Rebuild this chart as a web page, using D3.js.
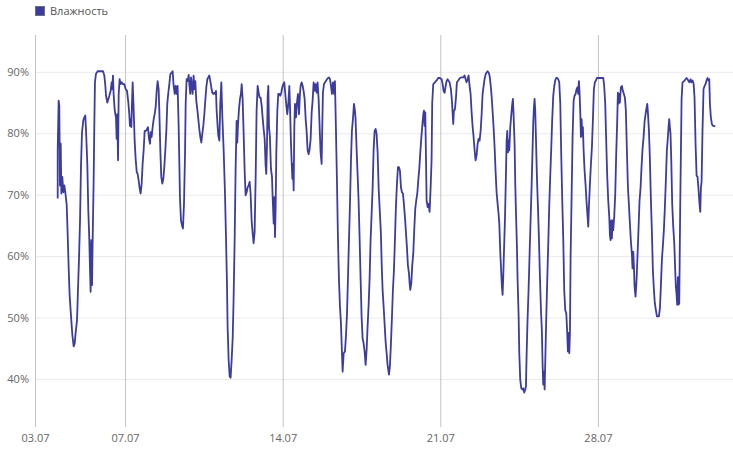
<!DOCTYPE html>
<html>
<head>
<meta charset="utf-8">
<script src="https://cdn.jsdelivr.net/npm/d3@7"></script>
<style>
  html, body { margin: 0; padding: 0; background: #fff; }
  svg { display: block; font-family: "Open Sans", "Noto Sans", sans-serif; }
</style>
</head>
<body>
<svg id="chart" width="733" height="451"></svg>
<script>
// ---- data ----
const seriesName = "Влажность";
const startDate = new Date(2019, 6, 3, 0, 0);   // 03.07
const endDate = new Date(2019, 7, 3, 0, 0);     // 03.08
const tickDates = [new Date(2019, 6, 3), new Date(2019, 6, 7), new Date(2019, 6, 14), new Date(2019, 6, 21), new Date(2019, 6, 28)];
const yTicks = [40, 50, 60, 70, 80, 90];
// hours since 03.07 00:00
const hours = [
24.2,24.2,25.2,25.9,26.6,27.4,28.1,29.1,30.2,31.3,32.3,33.8,34.8,35.9,36.9,38.4,39.8,41.2,42.3,43.3,44.8,45.8,46.9,48.0,49.0,50.1,51.5,52.6,53.6,54.4,55.8,56.8,57.9,58.6,59.3,60.0,60.8,61.5,62.5,63.2,63.9,65.0,66.8,69.6,72.5,73.9,75.0,75.7,77.1,78.2,79.2,80.6,81.7,82.4,83.1,83.8,84.9,85.6,86.3,87.0,87.7,88.5,89.2,90.2,91.3,92.4,93.8,95.2,96.6,98.1,99.5,100.5,101.2,102.0,102.7,103.4,104.1,105.2,106.2,107.3,108.4,109.4,110.5,111.6,112.6,113.7,114.7,115.8,116.9,118.3,119.4,120.4,121.5,122.6,123.3,124.3,125.4,126.5,127.5,128.6,129.7,130.7,131.8,132.5,133.6,134.6,135.7,136.8,137.8,138.9,140.0,141.0,142.1,143.2,144.2,145.7,146.7,147.8,148.9,149.9,151.0,152.0,153.1,153.8,154.5,155.6,156.7,157.7,158.8,159.9,160.6,161.6,162.7,163.8,164.5,165.5,166.3,167.3,168.0,169.1,169.8,170.9,171.9,173.0,174.1,175.1,176.2,177.3,178.3,179.4,180.5,181.5,182.6,183.7,184.7,185.8,186.9,187.9,189.0,190.1,191.1,192.2,192.9,193.6,194.7,195.4,196.5,197.5,198.6,199.7,201.1,202.5,203.6,204.6,205.3,206.4,207.5,208.5,209.6,210.7,211.7,212.8,213.9,214.9,215.6,216.3,217.4,218.5,219.5,220.3,221.3,222.4,223.5,224.5,225.6,226.6,227.7,228.8,229.8,230.9,232.0,233.0,234.1,235.2,236.2,237.3,238.4,239.4,240.5,241.6,242.6,243.7,244.8,245.8,246.5,247.3,248.0,248.7,249.4,250.4,251.5,252.6,253.3,254.4,255.1,255.8,256.5,257.2,258.3,259.3,260.4,261.5,262.5,263.6,264.7,265.7,266.8,267.9,268.9,270.0,271.1,271.8,272.8,273.5,274.3,275.0,275.7,276.4,277.1,278.2,279.2,280.3,281.4,282.4,283.1,284.2,285.3,286.3,287.4,288.5,289.5,290.6,291.7,292.7,293.8,294.9,295.9,297.0,298.1,299.1,300.2,301.2,302.3,303.4,304.4,305.5,306.2,306.9,308.0,309.1,310.1,311.2,312.3,313.3,314.4,315.5,316.5,317.6,318.7,319.7,320.8,321.9,322.9,324.0,325.0,326.1,327.2,327.9,329.0,330.4,331.4,332.5,333.6,334.6,335.7,336.8,337.8,338.9,340.0,341.0,341.7,342.8,343.9,344.9,346.0,347.1,348.1,349.2,350.3,351.3,352.4,353.5,354.5,355.6,356.7,357.7,358.8,359.9,360.9,362.0,363.1,364.1,365.2,366.3,367.3,
368.7,369.5,370.5,371.6,372.6,373.7,374.8,375.8,377.3,378.3,379.4,380.5,381.5,382.6,383.7,384.7,385.8,386.9,387.9,389.0,390.1,391.1,392.2,393.2,394.3,395.4,396.4,397.5,398.6,399.3,400.0,401.1,402.1,403.2,404.3,405.3,406.4,407.5,408.5,409.6,410.7,411.7,412.8,413.9,414.6,415.3,416.0,416.7,417.4,418.5,419.5,420.6,421.7,422.7,423.4,424.5,426.3,428.1,429.8,431.6,433.4,434.5,435.5,436.6,437.7,438.7,439.8,440.9,441.9,443.3,444.4,445.1,445.8,446.5,447.6,448.7,449.7,451.2,452.9,454.7,456.5,457.9,459.0,460.0,461.1,462.2,463.2,464.3,465.4,466.4,467.5,468.6,469.6,470.7,471.8,472.8,473.9,475.0,476.0,477.1,478.2,479.2,480.3,481.4,482.4,483.5,484.5,485.6,486.7,487.7,488.8,489.9,490.9,492.0,493.1,494.1,494.9,495.6,496.3,497.0,497.7,498.4,499.1,499.8,500.9,502.0,502.7,503.4,504.1,504.8,505.5,506.6,507.6,508.7,509.4,510.1,511.2,511.9,512.6,513.7,514.4,515.5,516.2,517.2,518.3,519.4,520.4,521.5,522.6,523.3,524.0,525.0,526.1,527.2,528.2,529.3,530.4,531.1,531.8,532.5,533.2,533.9,535.0,536.1,537.1,538.2,539.3,540.3,541.0,541.7,542.5,543.2,543.9,544.9,546.0,547.1,548.1,549.2,550.3,551.3,552.4,553.5,554.5,555.6,556.7,557.7,558.8,559.9,560.9,562.0,563.1,564.1,565.2,566.3,567.3,568.0,568.7,569.5,570.2,570.9,571.9,573.0,574.1,575.1,576.2,577.3,578.3,579.0,579.8,580.5,581.2,581.9,582.6,583.3,584.0,584.7,585.8,586.9,587.9,589.0,589.7,590.4,591.5,592.5,593.6,594.7,595.7,596.8,597.9,598.9,600.4,602.1,603.9,605.7,606.7,607.8,608.9,609.9,611.0,612.1,612.8,613.5,614.2,614.9,615.6,616.3,617.4,618.5,619.5,620.6,621.3,622.0,622.7,623.4,624.5,625.6,626.6,627.7,628.8,629.8,630.9,632.0,633.0,634.1,635.2,636.2,636.9,637.7,638.4,639.1,640.1,641.2,642.3,643.3,644.4,645.5,646.5,647.6,648.7,649.7,650.8,651.9,652.6,653.3,654.4,655.4,656.5,657.6,658.6,659.7,660.7,661.8,662.9,663.9,665.0,666.1,667.1,668.2,669.3,670.3,671.4,672.5,673.5,674.6,675.3,676.0,676.7,677.4,678.2,679.2,680.3,681.4,682.4,683.1,683.8,684.5,685.3,686.0,686.7,687.7,688.5,689.2,690.2,691.3,692.4,693.4,694.5,695.6,696.6,697.7,698.8,699.8,700.9,702.0,703.0,704.1,705.2,706.2,707.3,708.3,709.1,709.8,710.5,711.5,712.6,713.7,714.7,715.8,716.9,717.9,718.7,719.4,720.4,721.5,722.6,724.0,725.0
];
const humidity = [
69.4,77.3,85.3,84.5,71.5,78.3,70.2,72.9,70.4,71.5,70.4,68.3,63.7,58.0,53.7,50.2,47.2,45.3,45.8,47.5,49.6,54.5,59.6,65.8,74.5,80.2,82.1,82.6,82.9,80.4,74.8,67.5,62.6,58.0,54.2,62.6,55.3,63.1,72.3,81.0,88.3,89.7,90.1,90.1,90.1,89.4,87.7,86.1,85.0,85.6,86.1,86.9,88.3,87.2,89.4,86.4,83.9,83.1,82.6,79.1,83.1,75.6,86.4,88.8,88.0,88.3,88.0,88.0,87.2,86.9,85.0,83.1,81.2,82.3,81.0,85.0,88.3,83.7,78.8,75.8,73.7,73.4,72.3,71.0,70.2,71.8,75.0,77.2,80.4,80.4,80.7,81.0,79.1,78.3,80.2,79.4,81.0,82.3,83.1,84.2,86.9,88.5,87.2,83.7,77.2,72.9,71.8,72.6,74.5,77.2,80.4,84.8,86.6,88.0,89.6,89.9,90.1,87.7,86.4,87.7,86.4,87.7,81.2,75.6,69.6,65.8,65.0,64.5,68.5,76.6,84.8,88.8,88.5,89.5,88.0,86.4,89.1,87.7,86.4,89.4,87.2,88.5,85.3,83.9,82.3,80.7,79.4,78.5,79.9,81.2,83.1,85.3,87.5,88.8,89.1,89.4,88.5,87.5,86.6,86.4,86.6,86.4,86.9,83.7,81.0,79.6,78.8,84.8,88.3,82.6,77.2,70.2,62.9,55.8,48.5,43.1,40.4,40.2,43.1,46.6,53.1,62.6,74.8,82.0,78.5,81.2,83.9,85.6,86.4,88.0,85.6,79.9,73.7,69.9,70.4,71.2,71.5,72.1,70.2,65.8,63.7,62.1,63.9,72.9,83.7,87.7,86.6,85.8,85.8,84.5,82.6,80.7,79.1,74.8,73.4,78.3,86.1,87.7,81.0,79.4,74.2,72.9,69.6,65.3,69.6,63.1,68.0,76.6,83.7,86.4,86.4,86.1,86.6,87.5,88.0,88.3,86.4,84.5,83.1,84.8,87.7,84.5,78.5,75.6,72.6,75.0,70.7,81.0,84.8,82.6,85.0,86.4,83.1,86.4,87.7,88.3,87.7,86.9,85.6,82.3,80.4,77.2,76.6,77.4,79.1,83.4,85.3,88.3,86.9,88.0,86.6,88.3,85.6,81.0,76.9,75.0,81.0,86.6,88.0,88.3,88.5,88.8,89.0,89.1,88.8,87.7,86.4,88.3,86.4,88.5,80.4,71.8,63.1,56.1,52.0,49.1,44.2,41.2,44.2,44.5,46.9,50.4,56.4,62.3,68.3,75.6,80.4,82.3,84.8,83.7,82.3,77.4,73.1,69.1,62.9,56.1,50.2,46.6,45.8,44.5,42.3,44.8,48.5,52.0,56.6,62.6,66.9,71.2,77.2,80.4,80.7,79.9,76.9,71.0,68.0,
63.7,58.8,54.5,51.8,49.1,46.1,44.2,42.3,40.7,42.1,45.8,50.2,54.5,57.7,62.9,68.0,71.8,74.5,74.5,73.9,71.2,70.4,70.2,68.5,66.4,63.9,61.5,58.5,57.2,55.6,54.5,55.6,58.5,60.4,64.5,67.7,69.1,70.2,72.3,74.2,76.9,79.1,81.2,83.1,83.7,81.2,83.4,76.6,69.1,68.0,68.5,67.2,71.2,75.6,85.0,88.0,88.3,88.6,89.0,89.0,88.8,88.0,86.9,86.6,87.7,88.5,88.8,88.5,88.3,87.2,85.3,83.4,81.5,83.7,83.9,85.8,88.3,88.6,89.0,89.1,89.1,89.4,88.8,88.3,88.8,89.4,87.7,86.4,83.4,81.2,79.4,77.2,75.6,76.4,78.3,79.1,78.8,80.4,82.9,86.4,87.7,88.8,89.6,89.9,90.1,89.9,89.4,88.0,86.1,83.7,81.0,77.7,73.9,70.4,68.5,66.9,65.3,62.1,59.4,57.2,55.0,53.7,56.6,60.4,65.8,73.4,78.8,80.4,76.9,78.8,77.2,81.0,82.9,84.8,85.6,83.1,78.3,71.8,67.5,61.5,56.1,50.2,44.2,39.9,38.5,38.3,38.5,37.8,38.3,38.8,43.9,49.6,54.5,60.4,65.6,71.2,77.7,81.8,84.2,85.6,83.7,79.6,72.9,68.0,63.1,56.6,51.2,47.7,42.6,39.1,41.2,38.3,42.9,49.6,56.1,62.1,68.0,73.1,77.7,82.3,86.1,87.7,88.6,89.0,89.0,88.8,88.3,84.8,76.6,69.1,62.6,54.5,51.2,50.7,47.5,44.5,47.5,44.2,47.5,59.9,69.1,79.4,85.3,86.1,86.4,87.2,87.5,86.4,88.5,86.4,83.4,79.4,82.3,79.6,81.0,77.5,73.9,71.5,68.8,66.4,64.8,68.0,71.8,74.8,77.7,82.3,87.2,88.3,88.6,89.0,89.0,89.0,89.0,89.0,87.7,84.8,78.5,73.1,69.1,66.4,63.4,62.6,65.8,62.9,65.8,64.2,66.4,70.2,76.6,82.1,86.6,84.8,86.4,85.0,87.5,87.7,86.9,86.4,85.8,83.7,77.2,71.2,68.5,65.3,62.3,60.4,58.0,60.7,58.3,55.0,53.4,56.1,60.4,64.5,69.1,71.2,74.5,77.5,79.4,81.8,83.1,84.2,84.8,83.4,80.4,75.8,69.1,63.7,57.7,54.5,52.3,51.2,50.2,50.2,50.2,51.5,55.0,59.4,61.8,64.2,68.0,72.6,77.2,79.4,81.0,82.3,81.0,79.9,75.6,68.5,64.8,62.1,57.7,55.0,53.9,52.1,56.6,52.1,52.3,67.7,77.2,85.6,88.3,88.4,88.6,88.8,89.0,88.8,88.5,88.3,88.8,88.3,88.6,88.1,85.8,78.3,73.1,72.9,70.7,68.5,67.2,71.2,72.1,80.4,87.2,87.7,88.0,88.6,89.0,88.6,88.8,84.8,82.6,81.5,81.2,81.2,81.1
];

// ---- chart ----
const svg = d3.select("#chart");
const margin = {left: 35, right: 0, top: 35, bottom: 29};
const W = 733, H = 451;
const x = d3.scaleTime().domain([startDate, endDate]).range([margin.left, W - margin.right]);
const y = d3.scaleLinear().domain([33, 96]).range([H - margin.bottom, margin.top]);

const data = hours.map((h, i) => ({t: new Date(startDate.getTime() + h * 3600000), v: humidity[i]}));

// horizontal grid
svg.append("g")
  .attr("transform", `translate(${margin.left},0)`)
  .call(d3.axisLeft(y).tickValues(yTicks).tickSize(-(W - margin.left)).tickFormat(d => d + "%").tickPadding(6))
  .call(g => g.select(".domain").remove())
  .call(g => g.selectAll(".tick line").attr("stroke", "#ebebeb").attr("stroke-width", 1))
  .call(g => g.selectAll(".tick text").attr("fill", "#666").attr("font-size", 11).attr("font-family", "Open Sans"));

// vertical grid + x labels
svg.append("g")
  .attr("transform", `translate(0,${H - margin.bottom + 5})`)
  .call(d3.axisBottom(x).tickValues(tickDates).tickSize(-(H - margin.bottom + 5 - margin.top)).tickFormat(d3.timeFormat("%d.%m")).tickPadding(7))
  .call(g => g.select(".domain").remove())
  .call(g => g.selectAll(".tick line").attr("stroke", "#c4c4c4").attr("stroke-width", 1))
  .call(g => g.selectAll(".tick text").attr("fill", "#666").attr("font-size", 11).attr("font-family", "Open Sans"));

// line
const line = d3.line().x(d => x(d.t)).y(d => y(d.v));
svg.append("path")
  .datum(data)
  .attr("fill", "none")
  .attr("stroke", "#3c3c9e")
  .attr("stroke-width", 1.8)
  .attr("stroke-linejoin", "round")
  .attr("d", line);

// legend
const lg = svg.append("g");
lg.append("rect").attr("x", 35.5).attr("y", 6.5).attr("width", 9).attr("height", 9)
  .attr("fill", "#3c3c9e").attr("stroke", "#6a6a8a").attr("stroke-width", 1);
lg.append("text").attr("x", 50).attr("y", 15).attr("font-size", 11).attr("fill", "#555")
  .attr("font-family", "Open Sans").text(seriesName);
</script>
</body>
</html>
